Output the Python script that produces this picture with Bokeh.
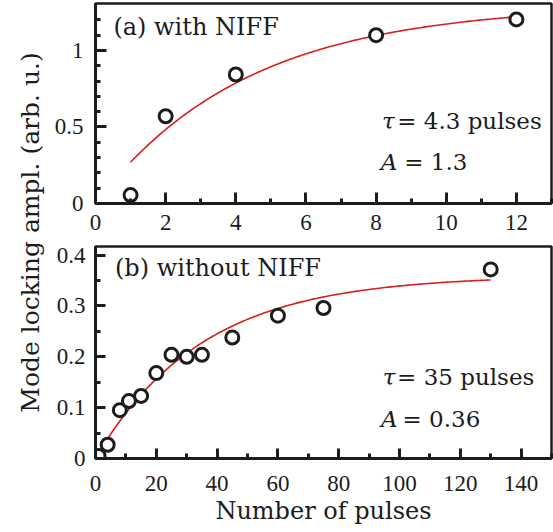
import math
from bokeh.plotting import figure
from bokeh.layouts import row, column
from bokeh.models import Range1d, FixedTicker, Label
from bokeh.embed import file_html
from bokeh.resources import INLINE

# ---------------- data ----------------
pulses_a = [1, 2, 4, 8, 12]
ampl_a = [0.055, 0.57, 0.843, 1.10, 1.203]
tau_a = 4.3
A_a = 1.3

pulses_b = [1, 4, 8, 11, 15, 20, 25, 30, 35, 45, 60, 75, 130]
ampl_b = [0.005, 0.027, 0.095, 0.113, 0.123, 0.168, 0.204, 0.200, 0.204, 0.238, 0.281, 0.296, 0.372]
tau_b = 35
A_b = 0.36

xticks_a = [0, 2, 4, 6, 8, 10, 12]
xminor_a = [1, 3, 5, 7, 9, 11, 13]
yticks_a = [0, 0.5, 1]
ylabels_a = ["0", "0.5", "1"]
yminor_a = [0.1, 0.2, 0.3, 0.4, 0.6, 0.7, 0.8, 0.9, 1.1, 1.2]

xticks_b = [0, 20, 40, 60, 80, 100, 120, 140]
xminor_b = [10, 30, 50, 70, 90, 110, 130, 150]
yticks_b = [0, 0.1, 0.2, 0.3, 0.4]
ylabels_b = ["0", "0.1", "0.2", "0.3", "0.4"]
yminor_b = [0.05, 0.15, 0.25, 0.35]

TICKFONT = "Liberation Serif"
TEXTFONT = "DejaVu Serif"
TICKFS = "23px"
TEXTFS = "24px"
PARFS = "23px"
RED = "#d81e1e"
INK = "#1c1c1c"


def fit_curve(A, tau, n0, n1, steps=200):
    xs = [n0 + (n1 - n0) * i / steps for i in range(steps + 1)]
    ys = [A * (1 - math.exp(-x / tau)) for x in xs]
    return xs, ys


def style(p, xt, xm, yt, yl, ym, tick_major, tick_minor, xstand, ystand):
    p.outline_line_color = INK
    p.outline_line_width = 2.5
    p.grid.visible = False
    p.background_fill_color = "white"
    p.border_fill_color = "white"
    for ax in (p.xaxis[0], p.yaxis[0]):
        ax.axis_line_width = 3
        ax.axis_line_color = INK
        ax.major_tick_line_width = 3
        ax.minor_tick_line_width = 3
        ax.major_tick_line_color = INK
        ax.minor_tick_line_color = INK
        ax.major_tick_in = tick_major
        ax.major_tick_out = 0
        ax.minor_tick_in = tick_minor
        ax.minor_tick_out = 0
        ax.major_label_text_font = TICKFONT
        ax.major_label_text_font_size = TICKFS
        ax.major_label_text_color = INK
        ax.axis_label_text_font = TEXTFONT
        ax.axis_label_text_font_size = TEXTFS
        ax.axis_label_text_font_style = "normal"
        ax.axis_label_text_color = INK
    p.xaxis[0].ticker = FixedTicker(ticks=xt, minor_ticks=xm)
    p.yaxis[0].ticker = FixedTicker(ticks=yt, minor_ticks=ym)
    p.yaxis[0].major_label_overrides = {t: l for t, l in zip(yt, yl)}
    p.xaxis[0].major_label_standoff = xstand
    p.yaxis[0].major_label_standoff = ystand


def lbl(p, x, y, text, style="normal", size=TEXTFS):
    p.add_layout(Label(x=x, y=y, y_offset=10, text=text, text_font=TEXTFONT,
                       text_font_size=size, text_color=INK, text_font_style=style,
                       text_baseline="alphabetic", text_align="left"))


# -------------- panel (a) --------------
pa = figure(width=508, height=242, output_backend="svg", toolbar_location=None,
            x_range=Range1d(0, 13), y_range=Range1d(0, 1.307),
            min_border_left=50, min_border_right=2, min_border_top=3, min_border_bottom=39)
style(pa, xticks_a, xminor_a, yticks_a, ylabels_a, yminor_a, 11, 5, 11, 12)
fx, fy = fit_curve(A_a, tau_a, pulses_a[0], pulses_a[-1])
pa.line(fx, fy, line_color=RED, line_width=1.6)
pa.scatter(pulses_a, ampl_a, marker="circle", size=13, fill_color="white",
           line_color=INK, line_width=3)

lbl(pa, 0.51, 1.085, "(a) with NIFF")
lbl(pa, 8.17, 0.477, "τ", "italic", PARFS)
lbl(pa, 8.6, 0.477, "= 4.3 pulses", "normal", PARFS)
lbl(pa, 8.13, 0.203, "A", "italic", PARFS)
lbl(pa, 8.8, 0.203, "= 1.3", "normal", PARFS)

# -------------- panel (b) --------------
pb = figure(width=508, height=290, output_backend="svg", toolbar_location=None,
            x_range=Range1d(0, 150), y_range=Range1d(0, 0.417),
            min_border_left=48, min_border_right=2, min_border_top=4, min_border_bottom=74)
style(pb, xticks_b, xminor_b, yticks_b, ylabels_b, yminor_b, 10, 5, 17, 10)
pb.xaxis[0].axis_label = "Number of pulses"
pb.xaxis[0].axis_label_standoff = 3
fx, fy = fit_curve(A_b, tau_b, pulses_b[0], pulses_b[-1])
pb.line(fx, fy, line_color=RED, line_width=1.6)
pb.scatter(pulses_b, ampl_b, marker="circle", size=13, fill_color="white",
           line_color=INK, line_width=3)

lbl(pb, 6.4, 0.356, "(b) without NIFF")
lbl(pb, 94.5, 0.14, "τ", "italic", PARFS)
lbl(pb, 99.2, 0.14, "= 35 pulses", "normal", PARFS)
lbl(pb, 93.9, 0.058, "A", "italic", PARFS)
lbl(pb, 101.0, 0.058, "= 0.36", "normal", PARFS)

# -------------- shared y label (axis of a thin strip figure) --------------
pl = figure(width=45, height=532, output_backend="svg", toolbar_location=None,
            x_range=Range1d(0, 1), y_range=Range1d(0, 1),
            min_border_left=44, min_border_right=0,
            min_border_top=0, min_border_bottom=68)
pl.xaxis.visible = False
pl.grid.visible = False
pl.outline_line_color = None
ya = pl.yaxis[0]
ya.ticker = FixedTicker(ticks=[])
ya.axis_line_color = None
ya.major_tick_line_color = None
ya.minor_tick_line_color = None
ya.axis_label = "Mode locking ampl. (arb. u.)"
ya.axis_label_text_font = TEXTFONT
ya.axis_label_text_font_size = "25px"
ya.axis_label_text_font_style = "normal"
ya.axis_label_text_color = INK
ya.axis_label_standoff = 0

layout = row(pl, column(pa, pb))
open("out.html", "w").write(file_html(layout, INLINE))
